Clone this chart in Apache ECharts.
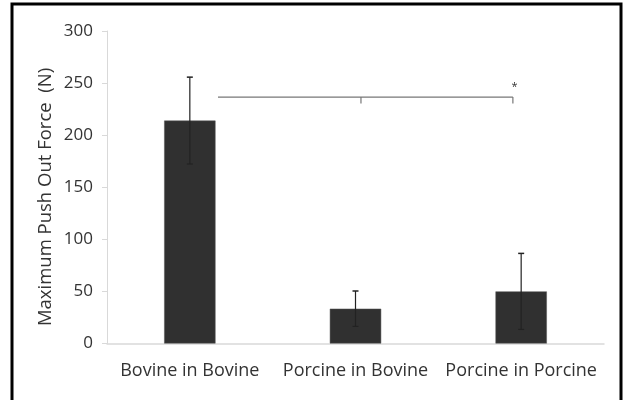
<!DOCTYPE html>
<html><head><meta charset="utf-8">
<script src="https://cdn.jsdelivr.net/npm/echarts@6/dist/echarts.min.js"></script>
<style>html,body{margin:0;padding:0;background:#fff}#c{width:625px;height:400px}</style>
</head><body><div id="c"></div>
<script>
const categories = ['Bovine in Bovine', 'Porcine in Bovine', 'Porcine in Porcine'];
const means = [214, 33.4, 50];
const errors = [41.7, 17, 36.5];
const yTicks = [0, 50, 100, 150, 200, 250, 300];
const yAxisTitle = 'Maximum Push Out Force  (N)';
const bracketLevel = 236.6;
const bracketDrop = 230.3;
const bracketStart = 0.17;
const bracketTicks = [1.033, 1.95];
const starPos = [1.96, 247.9];

const chart = echarts.init(document.getElementById('c'));
const font = 'Open Sans';
chart.setOption({
  animation: false,
  backgroundColor: '#fff',
  graphic: [
    {type:'rect', shape:{x:12, y:4, width:609, height:400}, style:{fill:'none', stroke:'#000', lineWidth:3}, z:100},
    {type:'text', x:46, y:197, rotation:Math.PI/2, style:{text:yAxisTitle, align:'center', verticalAlign:'middle', fill:'#333', font:'18.5px "Open Sans"'}}
  ],
  grid: {left:107, right:21, top:31, bottom:56.5},
  xAxis: {type:'category', data:categories,
    axisLine:{lineStyle:{color:'#d9d9d9', width:1.5}}, axisTick:{show:false},
    axisLabel:{color:'#333', fontFamily:font, fontSize:18, margin:18, interval:0, hideOverlap:false}},
  yAxis: {type:'value', min:yTicks[0], max:yTicks[yTicks.length-1], interval:50,
    axisLine:{show:true, lineStyle:{color:'#d9d9d9'}}, axisTick:{show:true, length:5, lineStyle:{color:'#d9d9d9'}},
    splitLine:{show:false},
    axisLabel:{color:'#333', fontFamily:font, fontSize:17, margin:14}},
  series: [
    {type:'bar', data:means, barWidth:'31%', itemStyle:{color:'#303030', borderColor:'#555', borderWidth:0.5}},
    {type:'custom', data:means.map((m,i)=>[i, m-errors[i], m+errors[i]]), z:5,
      renderItem:(params, api)=>{
        const lo = api.coord([api.value(0), api.value(1)]);
        const hi = api.coord([api.value(0), api.value(2)]);
        const x = lo[0], c = 3;
        return {type:'group', children:[
          {type:'line', shape:{x1:x, y1:lo[1], x2:x, y2:hi[1]}, style:{stroke:'#222', lineWidth:1.2}},
          {type:'line', shape:{x1:x-c, y1:hi[1], x2:x+c, y2:hi[1]}, style:{stroke:'#222', lineWidth:1.5}},
          {type:'line', shape:{x1:x-c, y1:lo[1], x2:x+c, y2:lo[1]}, style:{stroke:'#222', lineWidth:1.2}}
        ]};
      }},
    {type:'custom', data:[[0, bracketLevel, bracketDrop, starPos[1]]], z:5,
      renderItem:(params, api)=>{
        const band = api.size([1,0])[0];
        const c0 = api.coord([0, api.value(1)]);
        const xAt = t => c0[0] + t*band;
        const y = c0[1];
        const drop = api.coord([0, api.value(2)])[1];
        const starY = api.coord([0, api.value(3)])[1];
        const children = [{type:'line', shape:{x1:xAt(bracketStart), y1:y, x2:xAt(bracketTicks[1]), y2:y}, style:{stroke:'#777', lineWidth:1.2}}];
        bracketTicks.forEach(t=>{
          children.push({type:'line', shape:{x1:xAt(t), y1:y, x2:xAt(t), y2:drop}, style:{stroke:'#777', lineWidth:1.2}});
        });
        children.push({type:'text', style:{text:'*', x:xAt(starPos[0]), y:starY+2, align:'center', verticalAlign:'middle', fill:'#333', font:'11px '+font}});
        return {type:'group', children};
      }}
  ]
});
</script></body></html>
